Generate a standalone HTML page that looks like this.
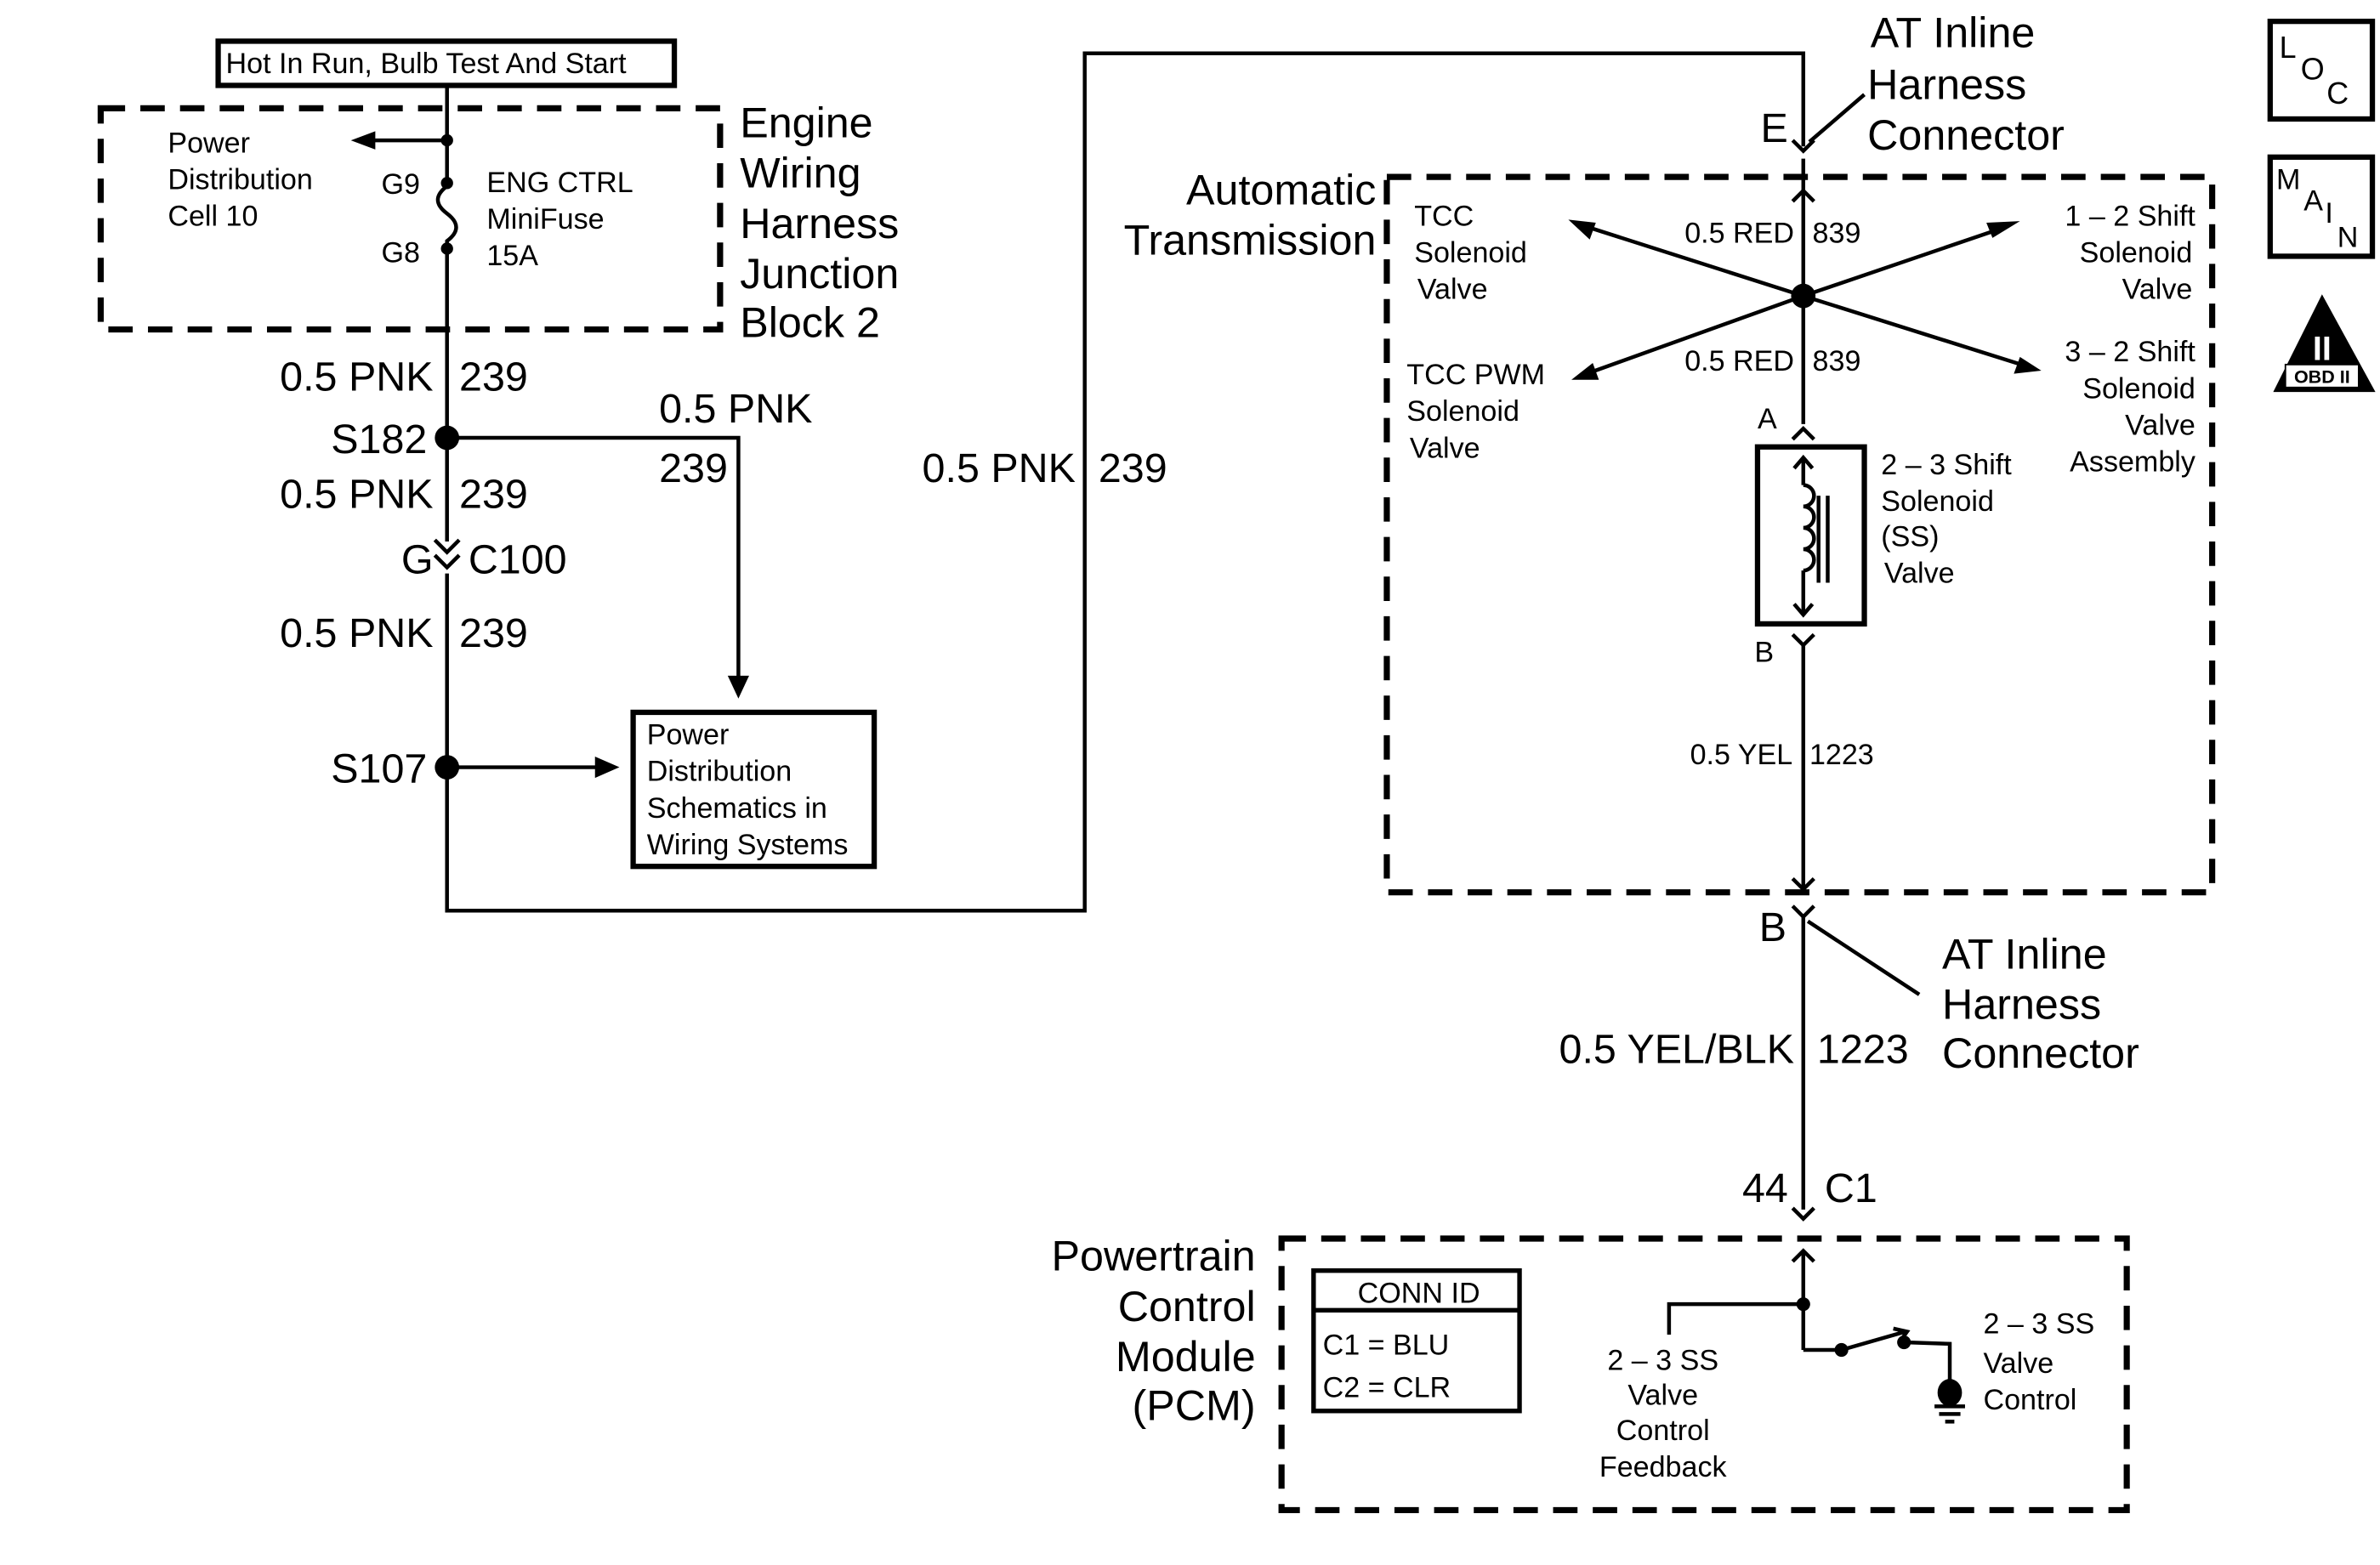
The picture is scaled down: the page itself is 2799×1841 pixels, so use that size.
<!DOCTYPE html>
<html><head><meta charset="utf-8"><style>
html,body{margin:0;padding:0;background:#fff;}
svg{display:block;}
text{font-family:"Liberation Sans",sans-serif;fill:#000;}
.s{font-size:19px;}
.m{font-size:27px;}
.l{font-size:28px;}
</style></head><body>
<svg width="2799" height="1841" viewBox="0 0 1560 1026" preserveAspectRatio="none" xmlns="http://www.w3.org/2000/svg">
<rect width="1560" height="1026" fill="#fff"/>
<g fill="none" stroke="#000" stroke-width="2.5">
<!-- top left box -->
<rect x="143" y="27" width="299" height="29" stroke-width="3.5"/>
<!-- dashed boxes -->
<rect x="66" y="71" width="406" height="145" stroke-width="4" stroke-dasharray="16,10"/>
<rect x="909" y="116" width="541" height="469" stroke-width="4" stroke-dasharray="16,10"/>
<rect x="840" y="812" width="554" height="178" stroke-width="4" stroke-dasharray="16,10"/>
<!-- main wire -->
<polyline points="293,56 293,118"/>
<path d="M293,122 q-12,9 0,18 q12,9 0,18 l0,3"/>
<polyline points="293,163 293,355"/>
<polyline points="293,376 293,597 711,597 711,35 1182,35 1182,96"/>
<polyline points="293,92 238,92"/>
<!-- C100 chevrons -->
<polyline points="285,354 293,362 301,354"/>
<polyline points="285,364 293,372 301,364"/>
<!-- S182 branch -->
<polyline points="293,287 484,287 484,448"/>
<!-- S107 branch -->
<polyline points="293,503 398,503"/>
<rect x="415" y="467" width="158" height="101" stroke-width="3.5"/>
<!-- E connector -->
<polyline points="1175,92 1182,99 1189,92"/>
<line x1="1186" y1="93" x2="1222" y2="62"/>
<line x1="1182" y1="104" x2="1182" y2="278"/>
<polyline points="1175,132 1182,125 1189,132"/>
<!-- star lines -->
<line x1="1182" y1="194" x2="1038" y2="148"/>
<line x1="1182" y1="194" x2="1314" y2="149"/>
<line x1="1182" y1="194" x2="1040" y2="245"/>
<line x1="1182" y1="194" x2="1328" y2="240"/>
<!-- A connector -->
<polyline points="1175,288 1182,281 1189,288"/>
<rect x="1152" y="293" width="70" height="116" stroke-width="3.5"/>
<polyline points="1182,300 1182,318"/>
<polyline points="1176,307 1182,300 1188,307"/>
<path d="M1182,318 a7,7 0 0 1 0,14 a7,7 0 0 1 0,14 a7,7 0 0 1 0,14 a7,7 0 0 1 0,14"/>
<polyline points="1182,374 1182,403"/>
<polyline points="1176,396 1182,403 1188,396"/>
<line x1="1192" y1="325" x2="1192" y2="382"/>
<line x1="1198" y1="325" x2="1198" y2="382"/>
<!-- B connector -->
<polyline points="1175,416 1182,423 1189,416"/>
<line x1="1182" y1="423" x2="1182" y2="583"/>
<polyline points="1175,576 1182,583 1189,576"/>
<polyline points="1175,594 1182,601 1189,594"/>
<line x1="1185" y1="604" x2="1258" y2="652"/>
<line x1="1182" y1="601" x2="1182" y2="793"/>
<polyline points="1175,792 1182,799 1189,792"/>
<line x1="1182" y1="820" x2="1182" y2="885"/>
<polyline points="1175,827 1182,820 1189,827"/>
<polyline points="1182,855 1094,855 1094,875"/>
<polyline points="1182,885 1207,885 1249,873"/>
<polyline points="1241,871 1250,873 1245,880"/>
<polyline points="1248,880 1278,881 1278,905"/>
<line x1="1268" y1="922" x2="1288" y2="922"/>
<line x1="1271" y1="927" x2="1285" y2="927"/>
<line x1="1275" y1="932" x2="1281" y2="932"/>
<!-- CONN ID -->
<rect x="861" y="833" width="135" height="92" stroke-width="3"/>
<line x1="861" y1="859" x2="996" y2="859" stroke-width="3"/>
<!-- LOC MAIN -->
<rect x="1488" y="14" width="67" height="64" stroke-width="3.5"/>
<rect x="1488" y="103" width="67" height="65" stroke-width="3.5"/>
</g>
<!-- arrowheads -->
<g fill="#000">
<polygon points="230,92 246,86 246,98"/>
<polygon points="484,458 477,443 491,443"/>
<polygon points="406,503 390,496 390,510"/>
<polygon points="1028,144 1046,146 1042,157"/>
<polygon points="1324,145 1306,156 1302,146"/>
<polygon points="1030,249 1044,238 1048,249"/>
<polygon points="1338,243 1320,245 1324,234"/>
<circle cx="293" cy="92" r="4"/>
<circle cx="293" cy="120" r="4"/>
<circle cx="293" cy="163" r="4"/>
<circle cx="293" cy="287" r="8"/>
<circle cx="293" cy="503" r="8"/>
<circle cx="1182" cy="194" r="8"/>
<circle cx="1182" cy="855" r="4.5"/>
<circle cx="1207" cy="885" r="4.5"/>
<circle cx="1248" cy="880" r="4.5"/>
<ellipse cx="1278" cy="913" rx="8" ry="9"/>
<polygon points="1522,193 1490,257 1557,257"/>
</g>
<rect x="1498" y="239" width="48" height="15" fill="#fff" stroke="#000" stroke-width="1"/>
<text x="1522" y="251" font-size="12" text-anchor="middle" font-weight="bold">OBD II</text>
<text x="1522" y="236" font-size="22" text-anchor="middle" fill="#fff" style="fill:#fff" font-weight="bold">II</text>
<text x="1494" y="38" font-size="20">L</text><text x="1508" y="52" font-size="20">O</text><text x="1525" y="68" font-size="20">C</text>
<text x="1492" y="124" font-size="19">M</text><text x="1510" y="138" font-size="19">A</text><text x="1524" y="146" font-size="19">I</text><text x="1532" y="162" font-size="19">N</text>

<text class="s" x="148" y="48">Hot In Run, Bulb Test And Start</text>
<text class="s"><tspan x="110" y="100">Power</tspan><tspan x="110" y="124">Distribution</tspan><tspan x="110" y="148">Cell 10</tspan></text>
<text class="s" x="250" y="127">G9</text><text class="s" x="250" y="172">G8</text>
<text class="s"><tspan x="319" y="126">ENG CTRL</tspan><tspan x="319" y="150">MiniFuse</tspan><tspan x="319" y="174">15A</tspan></text>
<text class="l"><tspan x="485" y="90">Engine</tspan><tspan x="485" y="123">Wiring</tspan><tspan x="485" y="156">Harness</tspan><tspan x="485" y="189">Junction</tspan><tspan x="485" y="221">Block 2</tspan></text>
<text class="m" x="284" y="256" text-anchor="end">0.5 PNK</text><text class="m" x="301" y="256">239</text>
<text class="m" x="280" y="297" text-anchor="end">S182</text>
<text class="m" x="432" y="277">0.5 PNK</text><text class="m" x="432" y="316">239</text>
<text class="m" x="284" y="333" text-anchor="end">0.5 PNK</text><text class="m" x="301" y="333">239</text>
<text class="m" x="284" y="376" text-anchor="end">G</text><text class="m" x="307" y="376">C100</text>
<text class="m" x="284" y="424" text-anchor="end">0.5 PNK</text><text class="m" x="301" y="424">239</text>
<text class="m" x="280" y="513" text-anchor="end">S107</text>
<text class="s"><tspan x="424" y="488">Power</tspan><tspan x="424" y="512">Distribution</tspan><tspan x="424" y="536">Schematics in</tspan><tspan x="424" y="560">Wiring Systems</tspan></text>
<text class="m" x="705" y="316" text-anchor="end">0.5 PNK</text><text class="m" x="720" y="316">239</text>

<text class="m" x="1172" y="93" text-anchor="end">E</text>
<text class="l"><tspan x="1226" y="31">AT Inline</tspan><tspan x="1224" y="65">Harness</tspan><tspan x="1224" y="98">Connector</tspan></text>
<text class="l" text-anchor="end"><tspan x="902" y="134">Automatic</tspan><tspan x="902" y="167">Transmission</tspan></text>
<text class="s"><tspan x="927" y="148">TCC</tspan><tspan x="927" y="172">Solenoid</tspan><tspan x="929" y="196">Valve</tspan></text>
<text class="s"><tspan x="922" y="252">TCC PWM</tspan><tspan x="922" y="276">Solenoid</tspan><tspan x="924" y="300">Valve</tspan></text>
<text class="s" text-anchor="end"><tspan x="1439" y="148">1 – 2 Shift</tspan><tspan x="1437" y="172">Solenoid</tspan><tspan x="1437" y="196">Valve</tspan></text>
<text class="s" text-anchor="end"><tspan x="1439" y="237">3 – 2 Shift</tspan><tspan x="1439" y="261">Solenoid</tspan><tspan x="1439" y="285">Valve</tspan><tspan x="1439" y="309">Assembly</tspan></text>
<text class="s" x="1176" y="159" text-anchor="end">0.5 RED</text><text class="s" x="1188" y="159">839</text>
<text class="s" x="1176" y="243" text-anchor="end">0.5 RED</text><text class="s" x="1188" y="243">839</text>
<text class="s" x="1152" y="281">A</text><text class="s" x="1150" y="434">B</text>
<text class="s"><tspan x="1233" y="311">2 – 3 Shift</tspan><tspan x="1233" y="335">Solenoid</tspan><tspan x="1233" y="358">(SS)</tspan><tspan x="1235" y="382">Valve</tspan></text>
<text class="s" x="1175" y="501" text-anchor="end">0.5 YEL</text><text class="s" x="1186" y="501">1223</text>
<text class="m" x="1171" y="617" text-anchor="end">B</text>
<text class="l"><tspan x="1273" y="635">AT Inline</tspan><tspan x="1273" y="668">Harness</tspan><tspan x="1273" y="700">Connector</tspan></text>
<text class="m" x="1176" y="697" text-anchor="end">0.5 YEL/BLK</text><text class="m" x="1191" y="697">1223</text>
<text class="m" x="1172" y="788" text-anchor="end">44</text><text class="m" x="1196" y="788">C1</text>
<text class="l" text-anchor="end"><tspan x="823" y="833">Powertrain</tspan><tspan x="823" y="866">Control</tspan><tspan x="823" y="899">Module</tspan><tspan x="823" y="931">(PCM)</tspan></text>
<text class="s" x="930" y="854" text-anchor="middle">CONN ID</text>
<text class="s"><tspan x="867" y="888">C1  =  BLU</tspan><tspan x="867" y="916">C2  =  CLR</tspan></text>
<text class="s" text-anchor="middle"><tspan x="1090" y="898">2 – 3 SS</tspan><tspan x="1090" y="921">Valve</tspan><tspan x="1090" y="944">Control</tspan><tspan x="1090" y="968">Feedback</tspan></text>
<text class="s"><tspan x="1300" y="874">2 – 3 SS</tspan><tspan x="1300" y="900">Valve</tspan><tspan x="1300" y="924">Control</tspan></text>
</svg>
</body></html>
